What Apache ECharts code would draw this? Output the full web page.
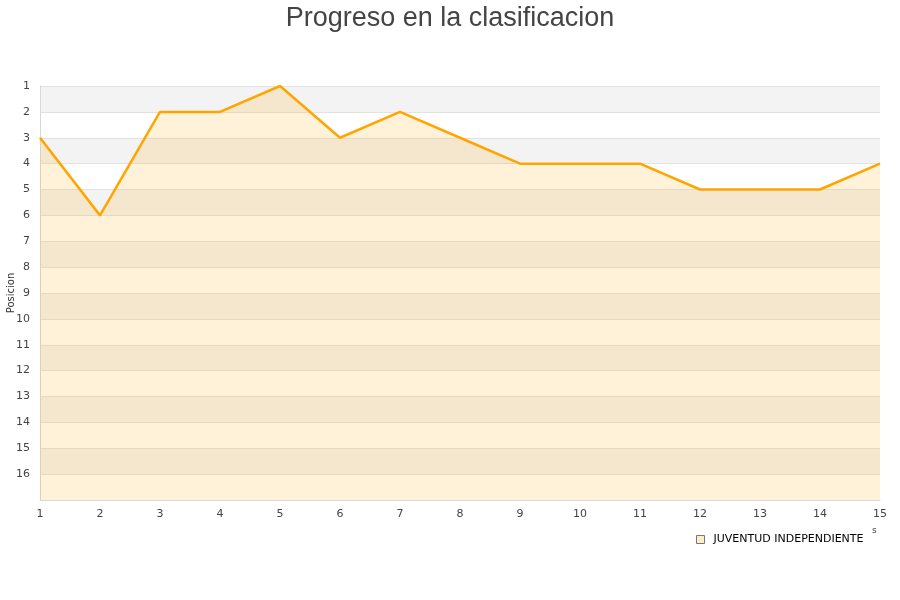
<!DOCTYPE html>
<html><head><meta charset="utf-8">
<script src="https://cdn.jsdelivr.net/npm/echarts@6/dist/echarts.min.js"></script>
<style>html,body{margin:0;padding:0;background:#fff}#c{width:900px;height:600px}</style>
</head><body><div id="c"></div>
<script>
var jornadas = [1,2,3,4,5,6,7,8,9,10,11,12,13,14,15];
var posiciones = [3,6,2,2,1,3,2,3,4,4,4,5,5,5,4];
var equipo = 'JUVENTUD INDEPENDIENTE';
var titulo = 'Progreso en la clasificacion';

var chart = echarts.init(document.getElementById('c'));
chart.setOption({
  animation: false,
  title: { text: titulo, left: 'center', top: 0,
    textStyle: { fontFamily: 'Liberation Sans', fontSize: 27, fontWeight: 'normal', color: '#444' } },
  grid: { left: 40, right: 20, top: 86, bottom: 100, containLabel: false, outerBoundsMode: 'none' },
  legend: { data: [equipo], left: 691, top: 529, itemWidth: 8, itemHeight: 8, icon: 'rect', itemGap: 5,
    itemStyle: { color: '#ffecc8', borderColor: '#777', borderWidth: 1 },
    textStyle: { fontFamily: 'DejaVu Sans', fontSize: 11, color: '#000', padding: [0, 0, 0, 4] } },
  xAxis: { type: 'category', data: jornadas, boundaryGap: false,
    axisLine: { lineStyle: { color: '#d8d8d8' } }, axisTick: { show: false },
    axisLabel: { fontFamily: 'DejaVu Sans', fontSize: 11, color: '#444', margin: 9 },
    splitLine: { show: false } },
  yAxis: { type: 'value', inverse: true, min: 1, max: 17, interval: 1,
    name: 'Posicion', nameLocation: 'middle', nameRotate: 90, nameGap: 24, nameMoveOverlap: false,
    nameTextStyle: { fontFamily: 'DejaVu Sans', fontSize: 10, color: '#333' },
    axisLine: { show: true, lineStyle: { color: '#d8d8d8' } }, axisTick: { show: false },
    axisLabel: { fontFamily: 'DejaVu Sans', fontSize: 11, color: '#444', margin: 10,
      formatter: function (v) { return v === 17 ? '' : v; } },
    splitLine: { show: true, lineStyle: { color: '#e2e2e2' } },
    splitArea: { show: true, areaStyle: { color: ['#f3f3f3', '#ffffff'] } } },
  graphic: [{ type: 'text', left: 872, top: 526, style: { text: 's', fontSize: 9, fill: '#444', fontFamily: 'DejaVu Sans' } }],
  series: [{
    name: equipo, type: 'line', data: posiciones, symbol: 'none',
    lineStyle: { color: '#ffa500', width: 2.5 },
    itemStyle: { color: '#ffecc8', borderColor: '#777', borderWidth: 1 },
    areaStyle: { origin: 'end', color: 'rgba(255,165,0,0.21)' }
  }]
});
</script></body></html>
